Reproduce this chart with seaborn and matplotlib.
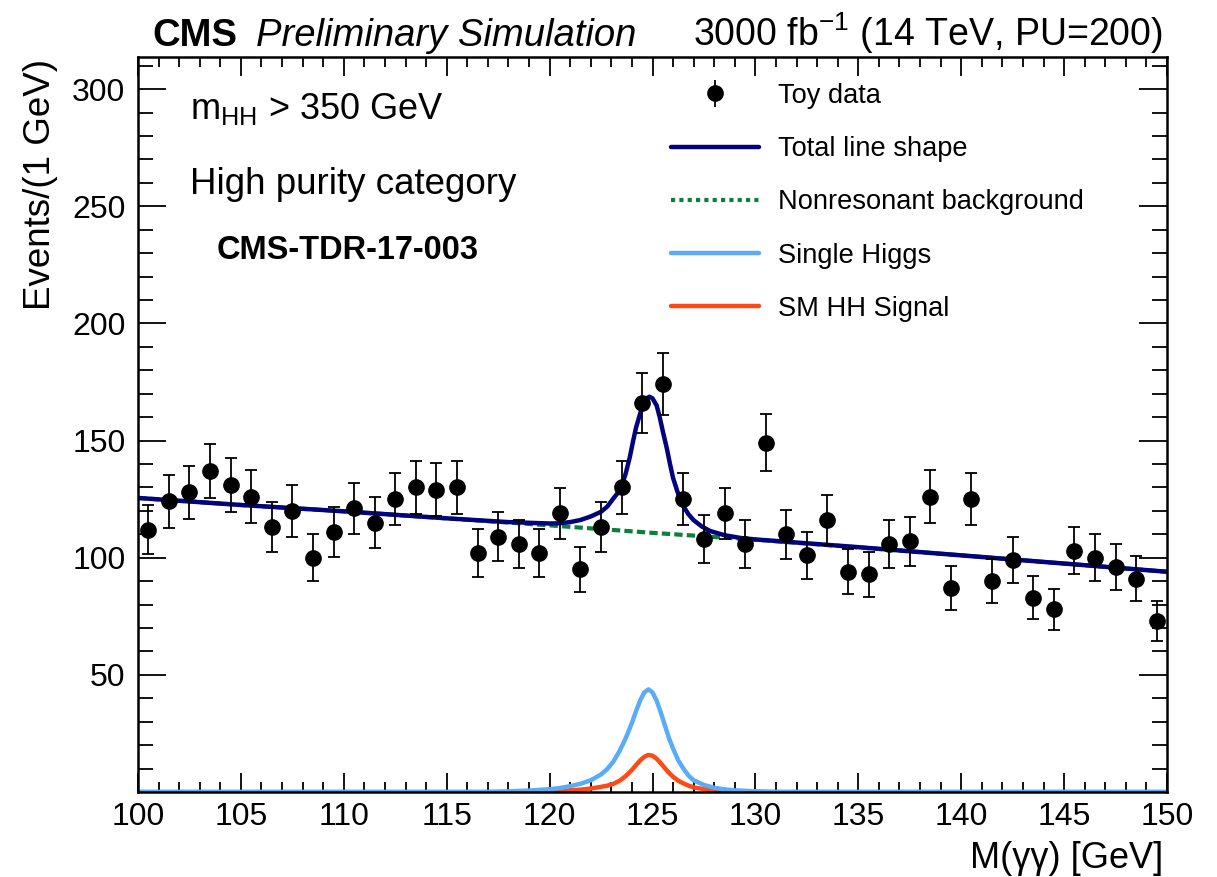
import numpy as np
import pandas as pd
import matplotlib
matplotlib.use("Agg")
import matplotlib.pyplot as plt
import seaborn as sns
from matplotlib.ticker import MultipleLocator
from matplotlib.lines import Line2D

# ---------------- data ----------------
bin_centers = [100.5 + i for i in range(50)]
toy_counts = [112, 124, 128, 137, 131, 126, 113, 120, 100, 111,
              121, 115, 125, 130, 129, 130, 102, 109, 106, 102,
              119, 95, 113, 130, 166, 174, 125, 108, 119, 106,
              149, 110, 101, 116, 94, 93, 106, 107, 126, 87,
              125, 90, 99, 83, 78, 103, 100, 96, 91, 73]
toy_errors = list(np.sqrt(toy_counts))

bkg_x = [100, 105, 110, 115, 120, 125, 130, 135, 140, 145, 150]
bkg_y = [125.5, 122.5, 119.8, 116.8, 113.8, 110.6, 107.7, 104.4, 101.0, 97.5, 94.0]

total_x = [100, 105, 110, 115, 118, 120, 120.5, 121, 121.5, 122, 122.5, 122.8, 123.1,
           123.3, 123.5, 123.7, 123.9, 124.05, 124.2, 124.4, 124.55, 124.7, 124.85,
           125.0, 125.2, 125.35, 125.5, 125.7, 125.85, 126.0, 126.2, 126.35, 126.5,
           126.75, 127.0, 127.4, 127.8, 128.5, 129.3, 130, 135, 140, 145, 150]
total_y = [125.5, 122.5, 119.8, 116.8, 115.2, 114.6, 114.7, 115.2, 116.1, 117.6, 119.6, 121.8, 125.3,
           127.5, 130.5, 136.0, 143.0, 149.5, 155.5, 161.5, 165.5, 168.0, 168.7,
           168.0, 165.0, 160.0, 154.0, 146.5, 140.0, 134.0, 128.5, 125.0, 122.0,
           118.5, 116.0, 113.3, 111.4, 109.6, 108.4, 107.8, 104.5, 101.0, 97.5, 94.0]

sig_x = [100, 117, 118, 119, 120, 120.5, 121, 121.5, 122, 122.5, 122.8, 123.1, 123.4,
         123.7, 124.0, 124.2, 124.4, 124.6, 124.8, 125.0, 125.2, 125.4, 125.6, 125.8,
         126.0, 126.25, 126.5, 126.75, 127.0, 127.5, 128, 128.5, 129, 130, 131, 150]
single_h = [0, 0, 0.3, 0.6, 1.2, 1.7, 2.5, 3.5, 5.0, 7.5, 9.8, 13.0, 17.5,
            23.0, 29.5, 34.5, 39.0, 42.5, 43.8, 42.5, 39.0, 34.0, 28.5, 23.0,
            18.5, 13.5, 10.0, 7.0, 5.0, 3.0, 1.8, 1.1, 0.7, 0.3, 0, 0]
sm_hh = [0, 0, 0, 0.1, 0.3, 0.5, 0.7, 1.0, 1.5, 2.2, 2.7, 3.5, 4.8,
         6.8, 9.4, 11.5, 13.5, 15.0, 15.8, 15.5, 14.2, 12.3, 10.2, 8.2,
         6.5, 4.8, 3.7, 2.7, 2.0, 1.2, 0.6, 0.4, 0.2, 0.1, 0, 0]

x_ticks = [100, 105, 110, 115, 120, 125, 130, 135, 140, 145, 150]
y_ticks = [50, 100, 150, 200, 250, 300]

# ---------------- style ----------------
sns.set_theme(style="ticks")
plt.rcParams['font.family'] = ['Liberation Sans', 'DejaVu Sans']
plt.rcParams['mathtext.fontset'] = 'custom'
plt.rcParams['mathtext.rm'] = 'Liberation Sans'
plt.rcParams['mathtext.it'] = 'Liberation Sans:italic'
plt.rcParams['mathtext.bf'] = 'Liberation Sans:bold'
plt.rcParams['text.color'] = 'black'
plt.rcParams['axes.labelcolor'] = 'black'
plt.rcParams['xtick.color'] = 'black'
plt.rcParams['ytick.color'] = 'black'

W, H = 1217, 877
fig = plt.figure(figsize=(W / 100, H / 100), dpi=100)
L, R, T, B = 138, 1167, 57, 792
ax = fig.add_axes([L / W, 1 - B / H, (R - L) / W, (B - T) / H])

c_total = "#02027f"
c_bkg = "#0b7f3b"
c_sh = "#5aacf5"
c_hh = "#ff4a16"

df_sig = pd.DataFrame({"x": sig_x, "sh": single_h, "hh": sm_hh})
df_bkg = pd.DataFrame({"x": bkg_x, "y": bkg_y})
df_tot = pd.DataFrame({"x": total_x, "y": total_y})

sns.lineplot(data=df_sig, x="x", y="hh", ax=ax, color=c_hh, lw=3.2, sort=False)
sns.lineplot(data=df_sig, x="x", y="sh", ax=ax, color=c_sh, lw=3.2, sort=False)
sns.lineplot(data=df_bkg, x="x", y="y", ax=ax, color=c_bkg, lw=3.0, sort=False,
             linestyle=(0, (2.0, 1.0)))
sns.lineplot(data=df_tot, x="x", y="y", ax=ax, color=c_total, lw=3.2, sort=False)

ax.errorbar(bin_centers, toy_counts, yerr=toy_errors, fmt='o', color='black',
            ms=11, elinewidth=1.3, capsize=4, capthick=1.3, zorder=5)

ax.set_xlim(100, 150)
ax.set_ylim(0, 313.7)
ax.set_xticks(x_ticks)
ax.set_yticks(y_ticks)
ax.xaxis.set_minor_locator(MultipleLocator(1))
ax.yaxis.set_minor_locator(MultipleLocator(10))
ax.tick_params(axis='both', which='both', direction='in', top=True, right=True,
               colors='black', labelsize=23, width=1.3)
ax.tick_params(axis='x', which='major', length=14, pad=7)
ax.tick_params(axis='x', which='minor', length=7.5)
ax.tick_params(axis='y', which='major', length=20, pad=9)
ax.tick_params(axis='y', which='minor', length=10.5)
for s in ax.spines.values():
    s.set_linewidth(1.8)
    s.set_color('black')

ax.set_xlabel("M(γγ) [GeV]", fontsize=26, loc='right')
ax.xaxis.set_label_coords(1.0 - 4 / (R - L), -(841 - B) / (B - T))
ax.set_ylabel("Events/(1 GeV)", fontsize=26.5, loc='top')
ax.yaxis.set_label_coords(-(L - 58) / (R - L), 1.0 - 2 / (B - T))

# header
fig.text(152 / W, 1 - 46 / H, "CMS", fontsize=27.5, fontweight='bold', ha='left', va='baseline')
fig.text(256 / W, 1 - 46 / H, "Preliminary Simulation", fontsize=27.5, style='italic',
         ha='left', va='baseline')
fig.text(1163 / W, 1 - 46 / H, r"3000 fb$^{-1}$ (14 TeV, PU=200)", fontsize=27,
         ha='right', va='baseline')

# annotations
ax.text((190 - L) / (R - L), (B - 119) / (B - T), r"m$_{\mathrm{HH}}$ > 350 GeV",
        transform=ax.transAxes, fontsize=26, ha='left', va='baseline')
ax.text((190 - L) / (R - L), (B - 194) / (B - T), "High purity category",
        transform=ax.transAxes, fontsize=26.5, ha='left', va='baseline')
ax.text((217 - L) / (R - L), (B - 259) / (B - T), "CMS-TDR-17-003",
        transform=ax.transAxes, fontsize=23.5, fontweight='bold', ha='left', va='baseline')

# legend
h_data = ax.errorbar([np.nan], [np.nan], yerr=[1.0], fmt='o', color='black',
                     ms=11, elinewidth=1.3, capsize=0)
handles = [
    h_data,
    Line2D([], [], color=c_total, lw=3.2),
    Line2D([], [], color=c_bkg, lw=3.0, linestyle=(0, (1.0, 1.0))),
    Line2D([], [], color=c_sh, lw=3.2),
    Line2D([], [], color=c_hh, lw=3.2),
]
labels = ["Toy data", "Total line shape", "Nonresonant background",
          "Single Higgs", "SM HH Signal"]
leg = ax.legend(handles, labels, loc='upper left',
                bbox_to_anchor=((671 - L) / (R - L), (B - 83) / (B - T)),
                frameon=False, fontsize=19.6, handlelength=3.23, handletextpad=0.7,
                labelspacing=1.0, borderaxespad=0, borderpad=0)

fig.savefig("out.png", dpi=100)
